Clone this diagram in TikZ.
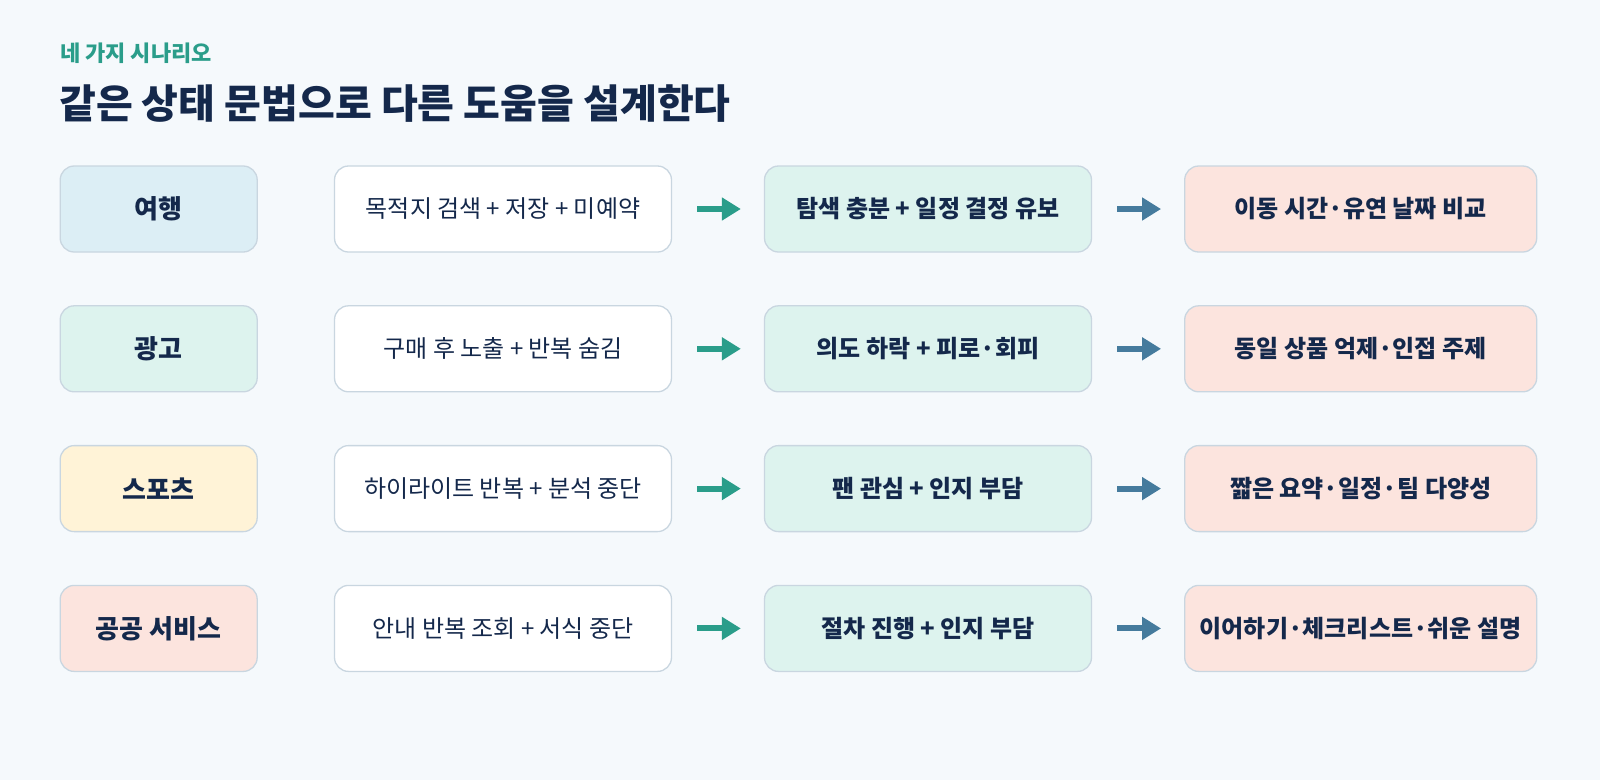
\documentclass[tikz,border=0pt]{standalone}
\usepackage{fontspec}
\setmainfont{Noto Sans CJK KR}
\usetikzlibrary{arrows.meta}

\definecolor{bgc}{HTML}{F5F9FC}
\definecolor{inkc}{HTML}{14284B}
\definecolor{tealc}{HTML}{2A9D8A}
\definecolor{steelc}{HTML}{457B9D}
\definecolor{edgec}{HTML}{C9D6E0}
\definecolor{travelc}{HTML}{DCEEF5}
\definecolor{mintc}{HTML}{DDF3EE}
\definecolor{sportc}{HTML}{FFF3D7}
\definecolor{rosec}{HTML}{FCE4DE}

\tikzset{
  card/.style={draw=edgec, line width=1.3pt, rounded corners=14pt,
    minimum height=86pt, inner sep=0pt, text=inkc, align=center},
  catbox/.style={card, minimum width=197pt, font=\bfseries\fontsize{26}{30}\selectfont},
  signbox/.style={card, fill=white, minimum width=337pt, font=\fontsize{24}{28}\selectfont},
  statebox/.style={card, fill=mintc, minimum width=327pt, font=\bfseries\fontsize{24}{28}\selectfont},
  helpbox/.style={card, fill=rosec, minimum width=352pt, font=\bfseries\fontsize{24}{28}\selectfont},
  flow/.style={line width=6pt, -{Triangle[length=19pt,width=22pt]},
    shorten <=25pt, shorten >=23pt}
}

\begin{document}
\begin{tikzpicture}[x=1pt, y=-1pt]
  % page background
  \fill[bgc] (0,0) rectangle (1600,780);
  \useasboundingbox (0,0) rectangle (1600,780);

  % heading
  \node[anchor=west, inner sep=0pt, text=tealc, font=\bfseries\fontsize{22}{26}\selectfont]
    (kicker) at (60,53) {네 가지 시나리오};
  \node[anchor=west, inner sep=0pt, text=inkc, font=\bfseries\fontsize{40}{46}\selectfont]
    (title) at (59,104) {같은 상태 문법으로 다른 도움을 설계한다};

  % one row per scenario: category, signal, state, help
  \foreach \i/\cat/\catcol/\sig/\st/\hlp in {
      1/여행/travelc/목적지 검색 + 저장 + 미예약/탐색 충분 + 일정 결정 유보/이동 시간·유연 날짜 비교,
      2/광고/mintc/구매 후 노출 + 반복 숨김/의도 하락 + 피로·회피/동일 상품 억제·인접 주제,
      3/스포츠/sportc/하이라이트 반복 + 분석 중단/팬 관심 + 인지 부담/짧은 요약·일정·팀 다양성,
      4/공공 서비스/rosec/안내 반복 조회 + 서식 중단/절차 진행 + 인지 부담/이어하기·체크리스트·쉬운 설명} {
    \pgfmathsetmacro{\ry}{209+(\i-1)*139.8}
    \node[catbox, fill=\catcol] (cat\i) at (158.7,\ry) {\cat};
    \node[signbox] (sig\i) at (503,\ry) {\sig};
    \node[statebox] (st\i) at (928,\ry) {\st};
    \node[helpbox] (help\i) at (1360.7,\ry) {\hlp};
    \draw[flow, tealc] (sig\i) -- (st\i);
    \draw[flow, steelc] (st\i) -- (help\i);
  }
\end{tikzpicture}
\end{document}
